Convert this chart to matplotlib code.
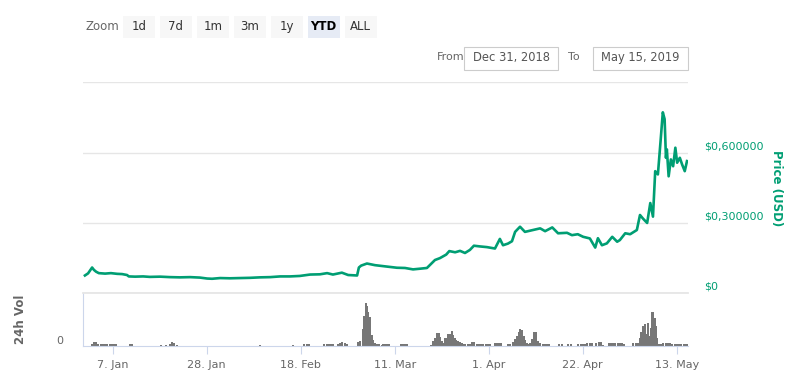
import matplotlib
matplotlib.use("Agg")
import matplotlib.pyplot as plt
from matplotlib.patches import Rectangle
from datetime import datetime, timedelta

# ---------------- data ----------------
start = datetime(2018, 12, 31, 7, 12)
end = datetime(2019, 5, 15, 11, 0)

price_days = [0.5, 1.2, 2.1, 2.5, 3.0, 3.6, 5.0, 6.3, 7.7, 8.8, 9.9, 10.3, 11.7, 13.5,
              15.0, 17.3, 19.5, 21.7, 24.0, 26.2, 27.8, 28.9, 30.7, 32.9, 35.1, 37.4,
              39.6, 41.9, 44.1, 46.3, 48.5, 50.8, 53.0, 54.6, 55.9, 57.9, 59.3, 61.3,
              61.7, 62.2, 63.5, 65.3, 67.5, 70.2, 72.0, 73.8, 75.4, 76.9, 77.8, 78.7,
              79.8, 81.2, 81.9, 83.2, 84.3, 85.4, 86.5, 87.4, 88.7, 90.3, 92.1, 93.2,
              93.9, 95.0, 95.9, 96.6, 97.7, 98.8, 100.6, 102.2, 103.3, 104.9, 106.2,
              108.2, 109.3, 110.6, 111.8, 113.3, 114.5, 115.1, 116.0, 117.1, 118.3,
              119.4, 120.0, 121.2, 122.3, 123.8, 124.5, 125.2, 126.1, 126.8, 127.4,
              127.9, 128.5, 129.1, 129.6, 130.0, 130.3, 130.5, 130.9, 131.4, 131.9,
              132.4, 132.8, 133.4, 133.9, 134.5, 135.0]
price_usd = [0.076, 0.085, 0.110, 0.100, 0.092, 0.086, 0.084, 0.086, 0.083, 0.082, 0.078,
             0.072, 0.071, 0.072, 0.070, 0.071, 0.069, 0.068, 0.069, 0.067, 0.063, 0.062,
             0.065, 0.064, 0.065, 0.066, 0.068, 0.069, 0.072, 0.072, 0.074, 0.080, 0.081,
             0.086, 0.080, 0.088, 0.078, 0.076, 0.110, 0.118, 0.127, 0.120, 0.115, 0.109,
             0.108, 0.102, 0.105, 0.108, 0.125, 0.142, 0.150, 0.165, 0.180, 0.175, 0.181,
             0.172, 0.185, 0.203, 0.200, 0.197, 0.191, 0.232, 0.205, 0.212, 0.222, 0.262,
             0.284, 0.262, 0.270, 0.277, 0.265, 0.281, 0.256, 0.258, 0.248, 0.252, 0.241,
             0.234, 0.195, 0.235, 0.205, 0.213, 0.241, 0.220, 0.227, 0.256, 0.252, 0.270,
             0.334, 0.318, 0.300, 0.385, 0.327, 0.521, 0.507, 0.650, 0.772, 0.743, 0.578,
             0.614, 0.499, 0.571, 0.542, 0.621, 0.557, 0.578, 0.550, 0.521, 0.564]

vol_days = [2.0, 2.5, 3.0, 3.5, 4.0, 4.5, 5.0, 5.5, 6.0, 6.5, 7.0, 7.5,
            10.5, 11.0, 17.5, 18.5, 19.5, 20.0, 20.5, 21.0, 39.5, 47.0,
            49.5, 50.0, 50.5, 54.0, 54.5, 55.0, 55.5, 56.0, 57.0, 57.5, 58.0, 58.5, 59.0,
            61.5, 62.0, 62.6, 62.9, 63.3, 63.5, 63.8, 64.1, 64.2, 64.7, 64.9, 65.3, 65.8,
            66.3, 66.8, 67.0, 67.5, 68.0, 68.5, 71.0, 71.5, 72.0, 72.5,
            77.75, 78.3, 78.7, 79.2, 79.6, 79.9, 80.3, 80.5, 81.0, 81.4, 81.7, 82.1, 82.5,
            82.8, 83.2, 83.5, 83.8, 84.3, 84.7, 85.0, 85.5, 86.0, 86.5, 87.0, 87.5,
            88.0, 88.5, 89.0, 89.5, 90.0, 90.5, 91.0, 92.0, 92.5, 93.0, 93.5, 95.0, 95.5,
            96.1, 96.6, 97.0, 97.4, 97.7, 98.1, 98.6, 98.9, 99.3, 99.7, 100.0, 100.4,
            100.8, 101.3, 101.7, 102.2, 102.75, 103.25, 103.75, 104.25, 106.5, 107.0,
            108.5, 109.0, 110.75, 111.25, 111.75, 112.25, 112.75, 113.25, 113.75,
            114.75, 115.25, 115.75, 116.2, 117.5, 118.0, 118.5, 119.0, 119.5, 120.0,
            120.5, 121.0, 123.0, 123.5, 124.0, 124.5, 124.75, 125.1, 125.6, 126.1, 126.3,
            126.8, 127.0, 127.2, 127.45, 127.7, 127.9, 128.15, 128.4, 128.75, 129.25,
            129.75, 130.25, 130.75, 131.25, 131.75, 132.25, 132.75, 133.25, 133.75,
            134.25, 134.75, 135.0]
vol_24h = [2, 4, 4, 2, 1.5, 1.5, 1.5, 2, 2, 1.5, 2, 2,
           1.5, 1.5, 1, 1, 2, 3.3, 2.5, 1, 1, 1,
           2, 2, 1.5, 1.5, 1.5, 1.5, 1.5, 1.5, 2, 3, 4, 3, 1.5,
           4, 5, 17, 30, 43, 40, 34, 29, 19, 10.7, 5.7, 2.3, 1.3,
           1.3, 1.0, 1.5, 1.5, 1.5, 1.5, 1.7, 1.7, 1.7, 1.7,
           1, 5, 8, 12.3, 12.3, 9, 5, 3, 8, 8, 12, 12, 14.7,
           11, 8, 6, 5, 4, 3, 2, 2, 2, 2, 4, 4,
           2, 2, 2, 2, 2, 2, 1.5, 2.5, 2.5, 2.5, 2.5, 2, 2,
           4, 7, 10, 14, 17, 16, 10, 6, 3, 2, 3, 7,
           14, 14, 5, 3, 2, 2, 2, 2, 2, 2,
           1.5, 1.5, 2, 2, 2, 2, 2.5, 2.5, 2.5,
           3, 4, 4, 1, 3, 3, 3, 3, 2.5, 3,
           2.5, 2, 3, 3, 3, 8, 14, 20, 22, 12, 23,
           10, 18, 34, 34, 27, 28, 20, 8, 2, 2,
           3, 3, 3, 2.5, 1.5, 1.5, 1.5, 1.5, 1.5,
           1.5, 1.5, 1.5]

price_ticks = [0, 0.3, 0.6]
price_grid = [0, 0.3, 0.6, 0.9]
x_tick_dates = [datetime(2019, 1, 7), datetime(2019, 1, 28), datetime(2019, 2, 18),
                datetime(2019, 3, 11), datetime(2019, 4, 1), datetime(2019, 4, 22),
                datetime(2019, 5, 13)]
x_tick_labels = ["7. Jan", "28. Jan", "18. Feb", "11. Mar", "1. Apr", "22. Apr", "13. May"]
zoom_buttons = ["1d", "7d", "1m", "3m", "1y", "YTD", "ALL"]
selected_button = "YTD"
from_date = "Dec 31, 2018"
to_date = "May 15, 2019"

# ---------------- style ----------------
GREEN = "#009e73"
GRAY_TXT = "#666666"
W, H = 786, 382
plt.rcParams['font.family'] = ['DejaVu Sans']

fig = plt.figure(figsize=(W / 100, H / 100), dpi=100)

def fx(x):
    return x / W

def fy(y):
    return 1 - y / H

price_t = [start + timedelta(days=d) for d in price_days]
vol_t = [start + timedelta(days=d) for d in vol_days]

# price panel
ax = fig.add_axes([fx(82.7), fy(293.3), fx(605), 211 / H])
ax.plot(price_t, price_usd, color=GREEN, lw=1.9, solid_joinstyle='round', zorder=3)
ax.set_xlim(start, end)
ax.set_ylim(0, 0.9)
ax.set_yticks(price_grid)
ax.yaxis.grid(True, color="#e6e6e6", lw=1.0)
ax.tick_params(left=False, labelleft=False, bottom=False, labelbottom=False)
for s in ax.spines.values():
    s.set_visible(False)
for v in price_ticks:
    lab = "$0" if v == 0 else ("$" + f"{v:.6f}".replace(".", ","))
    ax.text(1.0 + 16 / 605, v + 0.006, lab, transform=ax.get_yaxis_transform(),
            color=GREEN, fontsize=8, ha="left", va="bottom")
fig.text(fx(777), fy(188), "Price (USD)", rotation=270, color=GREEN, fontsize=8.5,
         fontweight="bold", ha="center", va="center")

# volume panel
axv = fig.add_axes([fx(82.7), fy(345.7), fx(605), 52.4 / H])
axv.bar(vol_t, vol_24h, width=0.45, color="#777777", linewidth=0, align="center")
axv.set_xlim(start, end)
axv.set_ylim(0, 52.4)
axv.spines["right"].set_visible(False)
axv.spines["top"].set_color("#e6e6e6")
axv.spines["top"].set_linewidth(1.3)
axv.spines["left"].set_color("#ccd6eb")
axv.spines["bottom"].set_color("#ccd6eb")
axv.spines["left"].set_linewidth(0.8)
axv.spines["bottom"].set_linewidth(0.8)
axv.set_yticks([0])
axv.set_yticklabels(["0"])
axv.tick_params(axis="y", length=0, labelsize=8, labelcolor=GRAY_TXT, pad=14)
for lab in axv.get_yticklabels():
    lab.set_va("bottom")
axv.set_xticks(x_tick_dates)
axv.set_xticklabels(x_tick_labels)
axv.tick_params(axis="x", length=6, width=0.8, color="#ccd6eb", labelsize=8,
                labelcolor=GRAY_TXT, pad=4)
fig.text(fx(21), fy(319), "24h Vol", rotation=90, color=GRAY_TXT, fontsize=8.5,
         fontweight="bold", ha="center", va="center")

# range selector
fig.text(fx(85), fy(26.7), "Zoom", color=GRAY_TXT, fontsize=8.5, ha="left", va="center")
bx = 122.7
for b in zoom_buttons:
    sel = (b == selected_button)
    fig.patches.append(Rectangle((fx(bx), fy(38.3)), fx(32), 22.6 / H,
                                 transform=fig.transFigure,
                                 facecolor="#e6ebf5" if sel else "#f7f7f7",
                                 edgecolor="none"))
    fig.text(fx(bx + 16), fy(26.7), b, color="#000000" if sel else "#333333",
             fontsize=8.5, fontweight="bold" if sel else "normal",
             ha="center", va="center")
    bx += 37

fig.text(fx(436.7), fy(57.5), "From", color=GRAY_TXT, fontsize=8, ha="left", va="center")
fig.text(fx(568.5), fy(57.5), "To", color=GRAY_TXT, fontsize=8, ha="left", va="center")
for x0, x1, t in [(464.3, 558.3, from_date), (593.3, 687.7, to_date)]:
    fig.patches.append(Rectangle((fx(x0), fy(70)), fx(x1 - x0), 22.7 / H,
                                 transform=fig.transFigure, facecolor="white",
                                 edgecolor="#cccccc", linewidth=0.8))
    fig.text(fx((x0 + x1) / 2), fy(57.5), t, color="#555555", fontsize=8.3,
             ha="center", va="center")

fig.savefig("out.png", dpi=100)
